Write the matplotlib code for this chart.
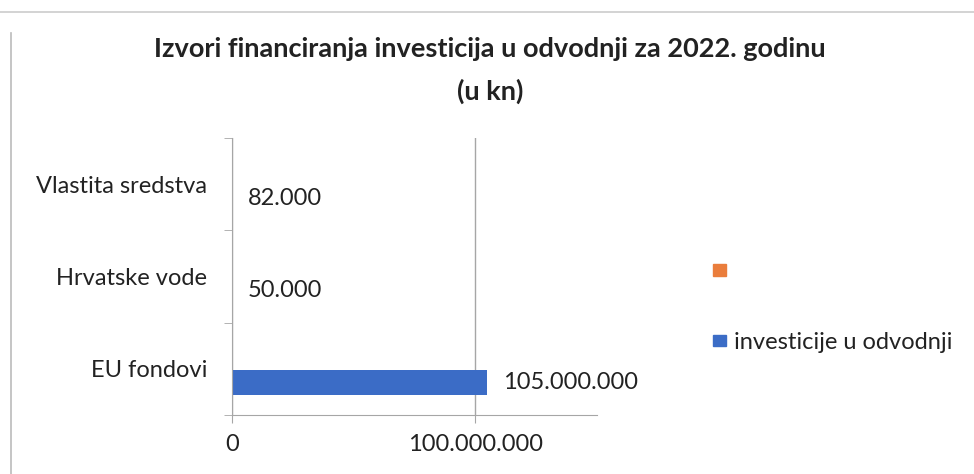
import matplotlib.pyplot as plt
from matplotlib.patches import Patch
from matplotlib.lines import Line2D
from matplotlib.ticker import FuncFormatter

categories = ['EU fondovi', 'Hrvatske vode', 'Vlastita sredstva']
investicije = [105000000, 50000, 82000]
prazno = [0, 0, 0]
value_labels = ['105.000.000', '50.000', '82.000']
series_name = 'investicije u odvodnji'

plt.rcParams['font.family'] = ['Lato', 'DejaVu Sans']

blue = '#3b6cc6'
orange = '#ea7d3c'
grey = '#a6a6a6'

fig = plt.figure(figsize=(9.74, 4.74), dpi=100)
ax = fig.add_axes([0.2382, 0.1245, 0.3747, 0.5844])

pos = list(range(len(categories)))
off = 0.153
h = 0.27
b1 = ax.barh([p + off for p in pos], prazno, height=h, color=orange)
b2 = ax.barh([p - off for p in pos], investicije, height=h, color=blue)

for p, v, t in zip(pos, investicije, value_labels):
    ax.annotate(t, (v, p - off), xytext=(11, 0), textcoords='offset points',
                va='center', ha='left', fontsize=17, color='#222222')

ax.set_xlim(0, 150000000)
ax.set_ylim(-0.5, 2.5)
ax.set_xticks([0, 100000000])
ax.xaxis.set_major_formatter(FuncFormatter(lambda x, _: f'{int(x):,}'.replace(',', '.')))
ax.set_yticks(pos)
ax.set_yticklabels(categories, fontsize=17, color='#222222')
ax.set_yticks([-0.5, 0.5, 1.5, 2.5], minor=True)
ax.tick_params(axis='y', which='major', length=0, pad=18)
ax.tick_params(axis='y', which='minor', length=6, color=grey)
ax.tick_params(axis='x', length=6, color=grey, labelsize=17, labelcolor='#222222', pad=8)
ax.grid(axis='x', color=grey, linewidth=1)
ax.set_axisbelow(True)
for s in ['top', 'right']:
    ax.spines[s].set_visible(False)
for s in ['left', 'bottom']:
    ax.spines[s].set_color(grey)

fig.text(0.503, 0.852, 'Izvori financiranja investicija u odvodnji za 2022. godinu\n(u kn)',
         ha='center', va='center', fontsize=19.5, fontweight='bold', color='#222222',
         linespacing=1.85)

handles = [Patch(color=orange), Patch(color=blue)]
fig.legend(handles, ['', series_name], loc='center left', bbox_to_anchor=(0.71, 0.352),
           frameon=False, fontsize=17, handlelength=0.55, handleheight=0.4,
           handletextpad=0.35, labelspacing=2.1, labelcolor='#222222')

fig.add_artist(Line2D([0.011, 0.011], [0.0, 0.93], transform=fig.transFigure, color='#bbbbbb', lw=1.2))
fig.add_artist(Line2D([0.0, 1.0], [0.975, 0.975], transform=fig.transFigure, color='#cccccc', lw=1.2))

fig.savefig('out.png', dpi=100)
